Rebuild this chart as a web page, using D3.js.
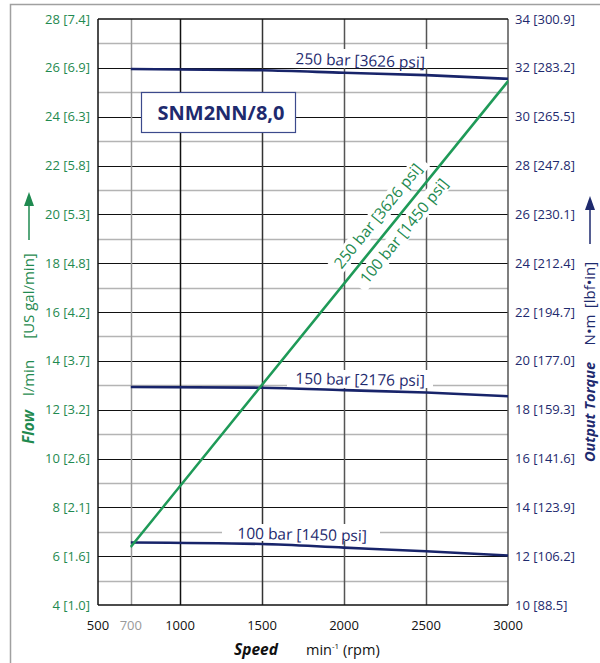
<!DOCTYPE html>
<html><head><meta charset="utf-8">
<script src="https://cdn.jsdelivr.net/npm/d3@7"></script>
<style>body{margin:0;background:#fff}svg{display:block}text{font-family:"Open Sans","Noto Sans",sans-serif}</style>
</head><body><svg id="c" width="600" height="663"></svg>
<script>
// ---- data ----
const speeds = [700, 1500, 2000, 2500, 3000];
const torque250 = [31.95, 31.9, 31.8, 31.7, 31.55];
const torque150 = [18.93, 18.9, 18.8, 18.7, 18.55];
const torque100 = [12.56, 12.5, 12.35, 12.2, 12.03];
const flowSpeeds = [700, 3000];
const flow250 = [6.36, 25.42];
const flow100 = [6.40, 25.48];
const xTicks = [500, 700, 1000, 1500, 2000, 2500, 3000];
const xTickLabels = ["500", "700", "1000", "1500", "2000", "2500", "3000"];
const leftTicks = [4, 6, 8, 10, 12, 14, 16, 18, 20, 22, 24, 26, 28];
const leftTickLabels = ["4 [1.0]", "6 [1.6]", "8 [2.1]", "10 [2.6]", "12 [3.2]", "14 [3.7]", "16 [4.2]", "18 [4.8]", "20 [5.3]", "22 [5.8]", "24 [6.3]", "26 [6.9]", "28 [7.4]"];
const rightTicks = [10, 12, 14, 16, 18, 20, 22, 24, 26, 28, 30, 32, 34];
const rightTickLabels = ["10 [88.5]", "12 [106.2]", "14 [123.9]", "16 [141.6]", "18 [159.3]", "20 [177.0]", "22 [194.7]", "24 [212.4]", "26 [230.1]", "28 [247.8]", "30 [265.5]", "32 [283.2]", "34 [300.9]"];
const torqueLabels = ["250 bar [3626 psi]", "150 bar [2176 psi]", "100 bar [1450 psi]"];
const flowLabels = ["250 bar [3626 psi]", "100 bar [1450 psi]"];
const title = "SNM2NN/8,0";

// ---- drawing ----
const GREEN = "#1f9a58", GREEN_T = "#1f8a50", NAVY = "#18246a", NAVY_T = "#1e2a6e";
const svg = d3.select("#c");
const L = 98, R = 508, T = 19, B = 605;
const x = d3.scaleLinear().domain([500, 3000]).range([L, R]);
const yL = d3.scaleLinear().domain([4, 28]).range([B, T]);
const yR = d3.scaleLinear().domain([10, 34]).range([B, T]);

// outer frame
svg.append("rect").attr("x", 10.5).attr("y", 4.5).attr("width", 620).attr("height", 700)
  .attr("fill", "none").attr("stroke", "#a0a0a0").attr("stroke-width", 1.5);

// horizontal grid
const gh = svg.append("g");
d3.range(5, 28).forEach(v => {
  const even = v % 2 === 0;
  gh.append("line").attr("x1", L).attr("x2", R).attr("y1", Math.round(yL(v)) + 0.5).attr("y2", Math.round(yL(v)) + 0.5)
    .attr("stroke", even ? "#111" : "#b4b4b4").attr("stroke-width", even ? 1.2 : 1.6);
});
// vertical grid
const vCol = {700: "#9a9a9a", 1000: "#111", 1500: "#333", 2000: "#555", 2500: "#555"};
[700, 1000, 1500, 2000, 2500].forEach(v => {
  gh.append("line").attr("y1", T).attr("y2", B).attr("x1", Math.round(x(v)) + 0.5).attr("x2", Math.round(x(v)) + 0.5)
    .attr("stroke", vCol[v]).attr("stroke-width", 1.5);
});

// white backgrounds behind curve labels
const bg = svg.append("g").attr("fill", "#fff");
bg.append("rect").attr("x", 281).attr("y", 49).attr("width", 153).attr("height", 19);
bg.append("rect").attr("x", 287).attr("y", 370).attr("width", 146).attr("height", 18);
bg.append("rect").attr("x", 222).attr("y", 524).attr("width", 158).attr("height", 17);

// green rotated label backgrounds
const ang = Math.atan2(yL(flow250[1]) - yL(flow250[0]), x(flowSpeeds[1]) - x(flowSpeeds[0])) * 180 / Math.PI;
const flowPos = [[378, 216], [404, 231]];
flowPos.forEach(p => {
  bg.append("rect").attr("x", -72).attr("y", -9).attr("width", 144).attr("height", 18)
    .attr("transform", `translate(${p[0]},${p[1]}) rotate(${ang})`);
});

// frame borders
svg.append("line").attr("x1", L).attr("x2", L).attr("y1", T).attr("y2", B).attr("stroke", "#111").attr("stroke-width", 1.5);
svg.append("line").attr("x1", R).attr("x2", R).attr("y1", T).attr("y2", B).attr("stroke", "#555").attr("stroke-width", 1.5);
svg.append("line").attr("x1", L).attr("x2", R).attr("y1", T).attr("y2", T).attr("stroke", "#111").attr("stroke-width", 1.5);
svg.append("line").attr("x1", L).attr("x2", R).attr("y1", B).attr("y2", B).attr("stroke", "#111").attr("stroke-width", 1.5);

// data lines
const tLine = d3.line().x((d, i) => x(speeds[i])).y(d => yR(d)).curve(d3.curveMonotoneX);
[torque250, torque150, torque100].forEach(s => {
  svg.append("path").attr("d", tLine(s)).attr("fill", "none").attr("stroke", NAVY).attr("stroke-width", 2.6);
});
const fLine = d3.line().x((d, i) => x(flowSpeeds[i])).y(d => yL(d));
[flow250, flow100].forEach(s => {
  svg.append("path").attr("d", fLine(s)).attr("fill", "none").attr("stroke", GREEN).attr("stroke-width", 1.8);
});

// curve labels
const tl = svg.append("g").attr("fill", NAVY_T).attr("font-size", 15.5).attr("text-anchor", "middle");
tl.append("text").attr("transform", "translate(360,66) rotate(1.8)").text(torqueLabels[0]);
tl.append("text").attr("transform", "translate(360,385) rotate(1)").text(torqueLabels[1]);
tl.append("text").attr("transform", "translate(302,540) rotate(1.2)").text(torqueLabels[2]);
const fl = svg.append("g").attr("fill", GREEN_T).attr("font-size", 15.5).attr("text-anchor", "middle");
flowLabels.forEach((t, i) => {
  fl.append("text").attr("transform", `translate(${flowPos[i][0]},${flowPos[i][1]}) rotate(${ang})`)
    .attr("dy", "0.35em").text(t);
});

// title box
svg.append("rect").attr("x", 141.5).attr("y", 92.5).attr("width", 154).attr("height", 40)
  .attr("fill", "#fff").attr("stroke", "#3c4a8c").attr("stroke-width", 1.2);
svg.append("text").attr("x", 221).attr("y", 120).attr("text-anchor", "middle")
  .attr("font-size", 20).attr("font-weight", "bold").attr("fill", NAVY_T).text(title);

// tick labels
svg.append("g").attr("fill", GREEN_T).attr("font-size", 13).attr("text-anchor", "end")
  .selectAll("text").data(leftTicks).join("text")
  .attr("x", 90).attr("y", d => yL(d)).attr("dy", "0.35em").text((d, i) => leftTickLabels[i]);
svg.append("g").attr("fill", NAVY_T).attr("font-size", 13).attr("text-anchor", "start")
  .selectAll("text").data(rightTicks).join("text")
  .attr("x", 515).attr("y", d => yR(d)).attr("dy", "0.35em").text((d, i) => rightTickLabels[i]);
svg.append("g").attr("font-size", 13).attr("text-anchor", "middle")
  .selectAll("text").data(xTicks).join("text")
  .attr("x", d => x(d)).attr("y", 625).attr("dy", "0.35em")
  .attr("fill", d => d === 700 ? "#999" : "#111").text((d, i) => xTickLabels[i]);

// x title
svg.append("text").attr("x", 256).attr("y", 655).attr("text-anchor", "middle").attr("fill", "#111")
  .attr("font-size", 15.5).attr("font-weight", "bold").attr("font-style", "italic").text("Speed");
const xt = svg.append("text").attr("x", 306).attr("y", 655).attr("fill", "#111").attr("font-size", 14.5);
xt.append("tspan").text("min");
xt.append("tspan").attr("font-size", 8).attr("dy", -6).text("-1");
xt.append("tspan").attr("dy", 6).text(" (rpm)");

// axis titles
function vtext(cx, cy, txt, color, size, bold) {
  const t = svg.append("text").attr("transform", `translate(${cx},${cy}) rotate(-90)`)
    .attr("text-anchor", "middle").attr("fill", color).attr("font-size", size).text(txt);
  if (bold) t.attr("font-weight", "bold").attr("font-style", "italic");
}
vtext(34, 427, "Flow", GREEN_T, 15.5, true);
vtext(34, 378, "l/min", GREEN_T, 15, false);
vtext(34, 296, "[US gal/min]", GREEN_T, 15, false);
svg.append("line").attr("x1", 29).attr("x2", 29).attr("y1", 240).attr("y2", 200).attr("stroke", GREEN_T).attr("stroke-width", 1.5);
svg.append("path").attr("d", "M29,192 L24,206 L34,206 Z").attr("fill", GREEN_T);

vtext(595, 412, "Output Torque", NAVY_T, 14.5, true);
vtext(595, 330, "N\u2022m", NAVY_T, 15, false);
vtext(595, 285, "[lbf\u2022in]", NAVY_T, 15, false);
svg.append("line").attr("x1", 590).attr("x2", 590).attr("y1", 244).attr("y2", 204).attr("stroke", NAVY_T).attr("stroke-width", 1.5);
svg.append("path").attr("d", "M590,196 L585,210 L595,210 Z").attr("fill", NAVY_T);
</script></body></html>
